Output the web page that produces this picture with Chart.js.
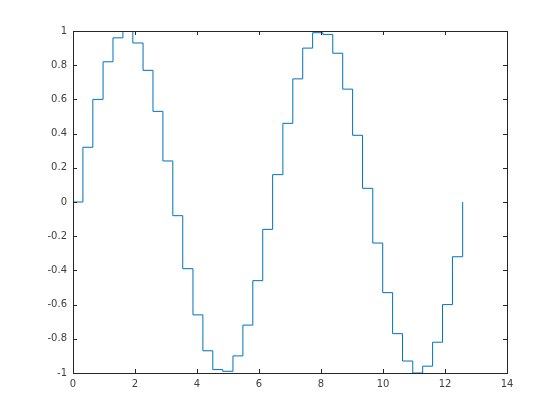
<!DOCTYPE html>
<html>
<head>
<meta charset="utf-8">
<script src="https://cdn.jsdelivr.net/npm/chart.js@4/dist/chart.umd.min.js"></script>
<style>
  body { margin: 0; background: #fff; }
  canvas { display: block; }
</style>
</head>
<body>
<canvas id="chart-stairs" width="560" height="420"></canvas>
<script>
// stair positions and levels
var xValues = [0, 0.32, 0.64, 0.97, 1.29, 1.61, 1.93, 2.26, 2.58, 2.90,
               3.22, 3.54, 3.87, 4.19, 4.51, 4.83, 5.16, 5.48, 5.80, 6.12,
               6.44, 6.77, 7.09, 7.41, 7.73, 8.06, 8.38, 8.70, 9.02, 9.34,
               9.67, 9.99, 10.31, 10.63, 10.96, 11.28, 11.60, 11.92, 12.24, 12.57];
var yValues = [0, 0.32, 0.60, 0.82, 0.96, 1.00, 0.93, 0.77, 0.53, 0.24,
               -0.08, -0.39, -0.66, -0.87, -0.98, -0.99, -0.90, -0.72, -0.46, -0.16,
               0.16, 0.46, 0.72, 0.90, 0.99, 0.98, 0.87, 0.66, 0.39, 0.08,
               -0.24, -0.53, -0.77, -0.93, -1.00, -0.96, -0.82, -0.60, -0.32, 0];
var xTicks = [0, 2, 4, 6, 8, 10, 12, 14];
var yTicks = [-1, -0.8, -0.6, -0.4, -0.2, 0, 0.2, 0.4, 0.6, 0.8, 1];

var axisColor = '#262626';
var labelColor = '#404040';

var points = [];
for (var i = 0; i < xValues.length; i++) {
    points.push({ x: xValues[i], y: yValues[i] });
}

// box round the plot area and inward tick marks, like matlab axes
var boxPlugin = {
    id: 'box',
    afterDraw: function (chart) {
        var ctx = chart.ctx;
        var a = chart.chartArea;
        var sx = chart.scales.x;
        var sy = chart.scales.y;
        var len = 4;
        ctx.save();
        ctx.strokeStyle = axisColor;
        ctx.lineWidth = 1;
        ctx.beginPath();
        xTicks.forEach(function (v) {
            var px = Math.round(sx.getPixelForValue(v)) + 0.5;
            ctx.moveTo(px, a.bottom);
            ctx.lineTo(px, a.bottom - len);
            ctx.moveTo(px, a.top);
            ctx.lineTo(px, a.top + len);
        });
        yTicks.forEach(function (v) {
            var py = Math.round(sy.getPixelForValue(v)) + 0.5;
            ctx.moveTo(a.left, py);
            ctx.lineTo(a.left + len, py);
            ctx.moveTo(a.right, py);
            ctx.lineTo(a.right - len, py);
        });
        ctx.stroke();
        ctx.strokeRect(Math.round(a.left) + 0.5, Math.round(a.top) + 0.5,
                       Math.round(a.right - a.left), Math.round(a.bottom - a.top));
        ctx.restore();
    }
};

var ctx = document.getElementById('chart-stairs').getContext('2d');
var chart = new Chart(ctx, {
    type: 'line',
    data: {
        datasets: [{
            data: points,
            stepped: 'before',
            borderColor: '#0072BD',
            borderWidth: 1,
            pointRadius: 0,
            fill: false
        }]
    },
    options: {
        responsive: false,
        animation: false,
        layout: { padding: { left: 0, right: 53, top: 31, bottom: 0 } },
        plugins: {
            legend: { display: false },
            tooltip: { enabled: false }
        },
        scales: {
            x: {
                type: 'linear',
                min: 0,
                max: 14,
                afterBuildTicks: function (scale) {
                    scale.ticks = xTicks.map(function (v) { return { value: v }; });
                },
                afterFit: function (scale) { scale.height = 47; },
                grid: { display: false, drawTicks: false },
                border: { display: false },
                ticks: {
                    padding: 5,
                    color: labelColor,
                    font: { family: 'DejaVu Sans', size: 10 },
                    maxRotation: 0
                }
            },
            y: {
                type: 'linear',
                min: -1,
                max: 1,
                afterBuildTicks: function (scale) {
                    scale.ticks = yTicks.map(function (v) { return { value: v }; });
                },
                afterFit: function (scale) { scale.width = 73; },
                grid: { display: false, drawTicks: false },
                border: { display: false },
                ticks: {
                    padding: 6,
                    color: labelColor,
                    font: { family: 'DejaVu Sans', size: 10 },
                    callback: function (v) { return String(Math.round(v * 10) / 10); }
                }
            }
        }
    },
    plugins: [boxPlugin]
});
</script>
</body>
</html>
